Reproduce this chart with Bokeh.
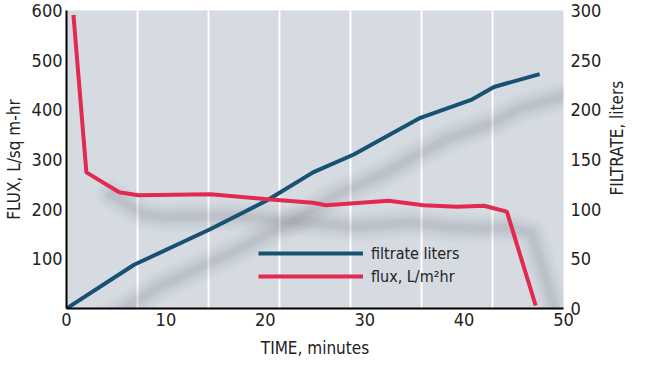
from bokeh.plotting import figure
from bokeh.layouts import row
from bokeh.models import Range1d, LinearAxis, FixedTicker, Legend, LegendItem, Title
from bokeh.embed import file_html
from bokeh.resources import INLINE

# flux, L/m2 hr (left axis)
flux_time = [0.7, 2.0, 5.3, 7.2, 14.5, 20.2, 24.8, 26.1, 32.4, 35.9, 39.3, 42.0, 44.3, 47.2]
flux_vals = [591, 274, 234, 228, 230, 220, 213, 208, 217, 208, 205, 207, 195, 6]

# filtrate liters (right axis)
filt_time = [0.0, 6.8, 14.5, 20.2, 24.8, 28.9, 35.6, 40.7, 43.0, 47.6]
filt_vals = [0, 44, 80, 109, 137, 155, 192, 210, 223, 236]

x_ticks = [0, 10, 20, 30, 40, 50]
left_ticks = [100, 200, 300, 400, 500, 600]
right_ticks = [0, 50, 100, 150, 200, 250, 300]

FONT = "DejaVu Sans Condensed"
BLUE = "#175272"
RED = "#e2294f"

p = figure(width=604, height=363, output_backend="svg", toolbar_location=None,
           x_range=Range1d(0, 50), y_range=Range1d(0, 600),
           min_border_left=60, min_border_right=35, min_border_top=10, min_border_bottom=55)
p.extra_y_ranges = {"filt": Range1d(0, 300)}

p.background_fill_color = "#d6dbe2"
p.border_fill_color = "white"
p.outline_line_color = None

# vertical white bands
p.xgrid.ticker = FixedTicker(ticks=[50 / 7 * i for i in range(1, 7)])
p.xgrid.grid_line_color = "white"
p.xgrid.grid_line_width = 2
p.ygrid.grid_line_color = None

# soft shadows (decorative), offset copies of the series
dx, dyf, dyl = 2.5, 44, 22
for w, a in [(30, 0.025), (24, 0.03), (18, 0.035), (12, 0.04), (7, 0.05)]:
    p.line([t + dx for t in flux_time[1:]], [v - dyf for v in flux_vals[1:]],
           line_width=w, line_alpha=a, line_color="#4a5260", line_join="round", line_cap="round")
    p.line([t + dx for t in filt_time], [v - dyl for v in filt_vals], y_range_name="filt",
           line_width=w, line_alpha=a, line_color="#4a5260", line_join="round", line_cap="round")

r_filt = p.line(filt_time, filt_vals, y_range_name="filt", line_color=BLUE, line_width=4)
r_flux = p.line(flux_time, flux_vals, line_color=RED, line_width=4)

xax = p.xaxis[0]
lax = p.yaxis[0]
ry = LinearAxis(y_range_name="filt", ticker=FixedTicker(ticks=right_ticks))
p.add_layout(ry, "right")

# axes
for ax in [xax, lax, ry]:
    ax.axis_line_color = "black"
    ax.axis_line_width = 2
    ax.major_tick_line_color = None
    ax.minor_tick_line_color = None
    ax.major_tick_out = 0
    ax.major_tick_in = 0
    ax.minor_tick_out = 0
    ax.minor_tick_in = 0
    ax.major_label_text_font = FONT
    ax.major_label_text_font_size = "18px"
    ax.major_label_text_color = "#222222"
    ax.axis_label_text_font = FONT
    ax.axis_label_text_font_size = "17px"
    ax.axis_label_text_font_style = "normal"
    ax.axis_label_text_color = "#222222"
ry.axis_line_color = None
ry.axis_label_standoff = 0
ry.major_label_standoff = 7

xax.ticker = FixedTicker(ticks=x_ticks)
xax.axis_label = "TIME, minutes"
xax.major_label_standoff = 4
xax.axis_label_standoff = 9

lax.ticker = FixedTicker(ticks=left_ticks)
lax.axis_label = "FLUX, L/sq m-hr"
lax.major_label_standoff = 4
lax.axis_label_standoff = 5

legend = Legend(items=[LegendItem(label="filtrate liters", renderers=[r_filt]),
                       LegendItem(label="flux, L/m²hr", renderers=[r_flux])],
                location=(192, 22), padding=0, margin=0, spacing=3,
                glyph_width=105, glyph_height=20, label_standoff=8,
                label_text_font=FONT, label_text_font_size="16px", label_text_color="#222222",
                background_fill_alpha=0, border_line_color=None)
p.add_layout(legend, "center")

# right-hand axis title, in a narrow companion panel so it reads bottom-to-top
p2 = figure(width=30, height=363, output_backend="svg", toolbar_location=None,
            x_range=Range1d(0, 1), y_range=Range1d(0, 1),
            min_border_left=0, min_border_right=0, min_border_top=10, min_border_bottom=55)
p2.xaxis.visible = False
p2.yaxis.visible = False
p2.grid.visible = False
p2.outline_line_color = None
p2.background_fill_color = "white"
p2.border_fill_color = "white"
p2.add_layout(Title(text="FILTRATE, liters", align="left", offset=113, standoff=0,
                    vertical_align="bottom",
                    text_font=FONT, text_font_size="17px", text_font_style="normal",
                    text_color="#222222"), "left")

layout = row(p, p2, spacing=0)
open("out.html", "w").write(file_html(layout, INLINE))
